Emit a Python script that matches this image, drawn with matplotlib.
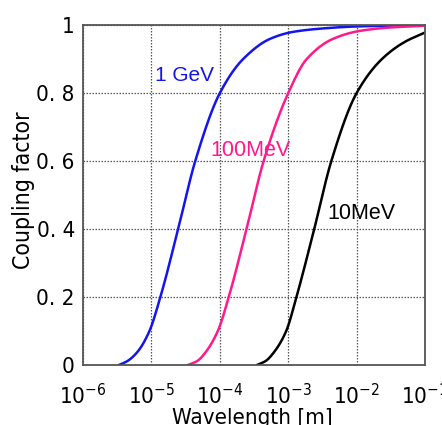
import matplotlib.pyplot as plt
import numpy as np

# curve points: log10(wavelength) vs coupling factor
gev1_logx = [-5.48, -5.35, -5.2, -5.03, -4.87, -4.61, -4.36, -4.0, -3.66, -3.26, -2.93, -2.5, -2.0, -1.0]
gev1_y = [0.0, 0.012, 0.04, 0.1, 0.2, 0.4, 0.6, 0.8, 0.9, 0.96, 0.98, 0.99, 0.996, 1.0]

mev100_logx = [-4.47, -4.33, -4.2, -4.03, -3.87, -3.61, -3.36, -3.0, -2.73, -2.34, -1.95, -1.5, -1.0]
mev100_y = [0.0, 0.012, 0.04, 0.1, 0.2, 0.4, 0.6, 0.8, 0.9, 0.96, 0.983, 0.993, 0.998]

mev10_logx = [-3.46, -3.33, -3.2, -3.03, -2.88, -2.62, -2.37, -2.0, -1.63, -1.3, -1.0]
mev10_y = [0.0, 0.012, 0.04, 0.1, 0.2, 0.4, 0.6, 0.8, 0.9, 0.95, 0.978]

xticks = [1e-6, 1e-5, 1e-4, 1e-3, 1e-2, 1e-1]
xtick_labels = [r'$\mathregular{10^{-6}}$', r'$\mathregular{10^{-5}}$', r'$\mathregular{10^{-4}}$',
                r'$\mathregular{10^{-3}}$', r'$\mathregular{10^{-2}}$', r'$\mathregular{10^{-1}}$']
yticks = [0, 0.2, 0.4, 0.6, 0.8, 1]
ytick_labels = ['0', '0. 2', '0. 4', '0. 6', '0. 8', '1']


# monotone cubic (Fritsch-Carlson) so the read points join smoothly
def pchip(x, y, n=400):
    x = np.asarray(x, float)
    y = np.asarray(y, float)
    h = np.diff(x)
    d = np.diff(y) / h
    m = np.zeros_like(y)
    m[0], m[-1] = d[0], d[-1]
    for i in range(1, len(x) - 1):
        if d[i - 1] * d[i] <= 0:
            m[i] = 0
        else:
            w1 = 2 * h[i] + h[i - 1]
            w2 = h[i] + 2 * h[i - 1]
            m[i] = (w1 + w2) / (w1 / d[i - 1] + w2 / d[i])
    xs = np.linspace(x[0], x[-1], n)
    idx = np.clip(np.searchsorted(x, xs) - 1, 0, len(h) - 1)
    t = (xs - x[idx]) / h[idx]
    h00 = 2 * t**3 - 3 * t**2 + 1
    h10 = t**3 - 2 * t**2 + t
    h01 = -2 * t**3 + 3 * t**2
    h11 = t**3 - t**2
    ys = h00 * y[idx] + h10 * h[idx] * m[idx] + h01 * y[idx + 1] + h11 * h[idx] * m[idx + 1]
    return 10 ** xs, ys


fig = plt.figure(figsize=(4.42, 4.25), dpi=100)
ax = fig.add_axes([0.188, 0.141, 0.7735, 0.8])

for lx, y, c in [(gev1_logx, gev1_y, '#1414ee'), (mev100_logx, mev100_y, '#ff1a8c'), (mev10_logx, mev10_y, 'black')]:
    xs, ys = pchip(lx, y)
    ax.plot(xs, ys, color=c, lw=1.8, solid_capstyle='round')

tickfont = dict(family='DejaVu Sans', stretch='condensed', size=16)
ax.set_xscale('log')
ax.set_xlim(1e-6, 1e-1)
ax.set_ylim(0, 1)
ax.set_xticks(xticks)
ax.set_xticklabels(xtick_labels, fontdict=tickfont)
ax.minorticks_off()
ax.set_yticks(yticks)
ax.set_yticklabels(ytick_labels, fontdict=tickfont)
ax.tick_params(axis='y', length=0, pad=6)
ax.tick_params(axis='x', length=0, pad=13)
ax.grid(True, color='#555555', linestyle=(0, (1.2, 1.2)), lw=0.9)
for s in ax.spines.values():
    s.set_color('#555555')
    s.set_linewidth(1.3)

ax.set_xlabel('Wavelength [m]', family='DejaVu Sans', stretch='condensed', size=16)
ax.set_ylabel('Coupling factor', family='DejaVu Sans', stretch='condensed', size=16.5)
ax.xaxis.set_label_coords(0.494, -0.126)
ax.yaxis.set_label_coords(-0.142, 0.515)

ax.text(10 ** -4.95, 0.853, '1 GeV', color='#1414ee', fontsize=15, family='Liberation Sans', va='center')
ax.text(10 ** -4.14, 0.63, '100MeV', color='#ff1a8c', fontsize=15.5, family='Liberation Sans', va='center')
ax.text(10 ** -2.43, 0.447, '10MeV', color='black', fontsize=15.5, family='Liberation Sans', va='center')

fig.savefig('out.png', dpi=100)
